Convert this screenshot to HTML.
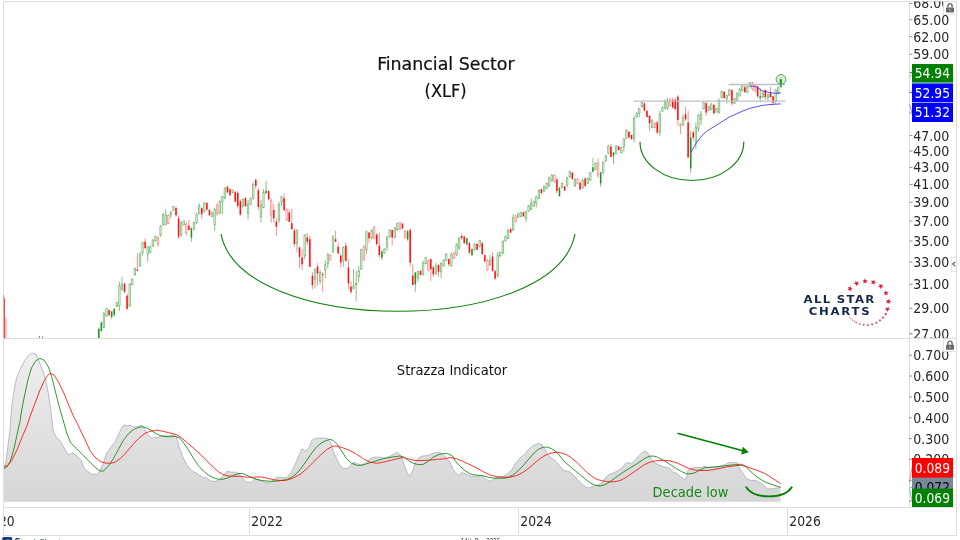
<!DOCTYPE html>
<html lang="en"><head><meta charset="utf-8"><title>Financial Sector (XLF)</title>
<style>html,body{margin:0;padding:0;background:#fff;overflow:hidden}svg{display:block}text{font-family:'DejaVu Sans Condensed','DejaVu Sans','Liberation Sans',sans-serif}</style></head><body>
<svg width="960" height="540" viewBox="0 0 960 540">
<defs><linearGradient id="ig" gradientUnits="userSpaceOnUse" x1="0" y1="350" x2="0" y2="502"><stop offset="0" stop-color="#efefef"/><stop offset="1" stop-color="#d6d6d6"/></linearGradient><clipPath id="pc"><rect x="3.5" y="1.5" width="906" height="336.7"/></clipPath><clipPath id="fc"><rect x="3.5" y="1.5" width="953" height="533.5"/></clipPath></defs>
<rect width="960" height="540" fill="#fff"/>
<polygon points="3.3,501.8 3.3,470.5 5.8,463.0 8.3,443.0 10.0,430.0 11.7,406.7 14.2,390.0 16.7,377.5 20.8,368.3 25.0,360.0 29.2,355.0 32.5,353.0 35.8,354.2 39.2,361.7 42.5,370.0 45.8,380.0 48.3,393.3 50.8,410.0 51.7,418.0 53.3,431.3 56.7,438.0 60.0,440.5 64.2,448.0 68.3,455.0 72.5,453.0 76.7,455.5 80.8,459.7 84.2,468.0 87.5,471.3 91.7,474.3 96.7,474.3 100.0,471.3 103.3,463.0 106.7,453.0 110.8,447.2 115.0,442.2 119.2,433.0 122.5,426.3 125.0,425.0 127.5,425.8 130.0,425.2 133.3,427.2 138.3,426.3 142.5,425.5 145.0,429.7 147.5,434.7 151.7,438.0 155.8,437.7 158.3,437.2 163.3,435.5 168.3,436.0 173.3,434.7 176.7,437.2 179.2,447.2 182.5,456.3 185.8,463.0 189.2,468.0 193.3,471.7 198.3,474.3 202.5,477.2 206.7,478.0 210.8,481.0 215.8,481.3 220.0,479.3 223.3,475.5 226.7,471.3 231.7,472.2 236.7,472.2 240.8,475.5 244.2,480.5 246.7,482.2 251.7,482.2 255.0,478.8 260.0,480.5 265.0,482.2 270.0,483.0 273.3,480.5 276.7,477.2 281.7,477.7 286.7,477.7 290.8,473.0 295.0,464.7 299.2,454.7 302.0,448.8 305.8,451.3 309.2,447.2 311.7,440.5 315.0,438.3 321.7,438.0 327.5,438.5 330.8,443.0 333.3,451.3 336.7,458.8 340.0,465.5 343.3,468.3 346.7,468.8 350.0,466.3 353.3,462.2 357.5,463.8 361.7,464.7 365.8,463.0 370.0,458.8 374.2,457.2 380.0,457.2 385.0,458.0 390.0,456.3 394.2,453.8 397.5,452.2 400.8,455.5 404.2,464.7 407.5,473.8 410.0,475.5 412.5,471.3 415.0,463.0 418.3,458.0 422.5,456.0 428.3,455.5 433.3,453.0 438.3,452.2 442.5,453.8 446.7,458.0 450.0,462.2 453.3,469.7 458.3,475.5 461.7,472.2 466.7,474.7 471.7,476.3 476.7,476.3 481.7,475.5 485.8,479.3 490.0,481.3 493.3,479.7 497.5,476.7 503.3,476.3 507.5,473.8 511.7,469.7 515.8,463.0 520.0,458.0 525.0,453.8 529.2,448.8 533.3,445.5 538.3,443.5 541.7,444.3 545.0,449.7 547.5,454.7 551.7,458.0 555.8,461.3 560.0,466.3 564.2,470.5 569.2,471.7 573.3,474.7 577.5,479.7 581.7,483.8 585.8,487.2 589.2,488.0 593.3,486.7 598.3,484.7 602.5,482.2 605.8,477.2 609.2,474.3 613.3,473.0 618.3,470.5 622.5,467.2 625.8,463.3 629.2,462.7 631.7,463.8 635.0,460.5 639.2,455.5 642.5,452.2 645.8,451.3 648.3,453.3 650.8,458.8 655.0,463.0 660.0,465.5 665.0,467.2 669.2,468.0 673.3,472.2 677.5,473.8 680.8,477.2 684.2,479.3 686.3,478.8 687.5,471.3 690.8,468.0 696.7,467.5 701.7,467.5 705.0,466.3 708.3,467.5 715.0,467.2 720.0,466.3 725.0,464.7 729.2,462.5 733.3,462.7 737.3,462.4 739.4,468.3 742.6,472.7 747.0,479.0 751.4,480.6 755.2,480.3 760.2,482.8 764.0,485.3 767.8,489.1 772.8,488.5 780.6,487.6 780.6,501.8" fill="url(#ig)"/>
<polyline points="3.3,470.5 5.8,463.0 8.3,443.0 10.0,430.0 11.7,406.7 14.2,390.0 16.7,377.5 20.8,368.3 25.0,360.0 29.2,355.0 32.5,353.0 35.8,354.2 39.2,361.7 42.5,370.0 45.8,380.0 48.3,393.3 50.8,410.0 51.7,418.0 53.3,431.3 56.7,438.0 60.0,440.5 64.2,448.0 68.3,455.0 72.5,453.0 76.7,455.5 80.8,459.7 84.2,468.0 87.5,471.3 91.7,474.3 96.7,474.3 100.0,471.3 103.3,463.0 106.7,453.0 110.8,447.2 115.0,442.2 119.2,433.0 122.5,426.3 125.0,425.0 127.5,425.8 130.0,425.2 133.3,427.2 138.3,426.3 142.5,425.5 145.0,429.7 147.5,434.7 151.7,438.0 155.8,437.7 158.3,437.2 163.3,435.5 168.3,436.0 173.3,434.7 176.7,437.2 179.2,447.2 182.5,456.3 185.8,463.0 189.2,468.0 193.3,471.7 198.3,474.3 202.5,477.2 206.7,478.0 210.8,481.0 215.8,481.3 220.0,479.3 223.3,475.5 226.7,471.3 231.7,472.2 236.7,472.2 240.8,475.5 244.2,480.5 246.7,482.2 251.7,482.2 255.0,478.8 260.0,480.5 265.0,482.2 270.0,483.0 273.3,480.5 276.7,477.2 281.7,477.7 286.7,477.7 290.8,473.0 295.0,464.7 299.2,454.7 302.0,448.8 305.8,451.3 309.2,447.2 311.7,440.5 315.0,438.3 321.7,438.0 327.5,438.5 330.8,443.0 333.3,451.3 336.7,458.8 340.0,465.5 343.3,468.3 346.7,468.8 350.0,466.3 353.3,462.2 357.5,463.8 361.7,464.7 365.8,463.0 370.0,458.8 374.2,457.2 380.0,457.2 385.0,458.0 390.0,456.3 394.2,453.8 397.5,452.2 400.8,455.5 404.2,464.7 407.5,473.8 410.0,475.5 412.5,471.3 415.0,463.0 418.3,458.0 422.5,456.0 428.3,455.5 433.3,453.0 438.3,452.2 442.5,453.8 446.7,458.0 450.0,462.2 453.3,469.7 458.3,475.5 461.7,472.2 466.7,474.7 471.7,476.3 476.7,476.3 481.7,475.5 485.8,479.3 490.0,481.3 493.3,479.7 497.5,476.7 503.3,476.3 507.5,473.8 511.7,469.7 515.8,463.0 520.0,458.0 525.0,453.8 529.2,448.8 533.3,445.5 538.3,443.5 541.7,444.3 545.0,449.7 547.5,454.7 551.7,458.0 555.8,461.3 560.0,466.3 564.2,470.5 569.2,471.7 573.3,474.7 577.5,479.7 581.7,483.8 585.8,487.2 589.2,488.0 593.3,486.7 598.3,484.7 602.5,482.2 605.8,477.2 609.2,474.3 613.3,473.0 618.3,470.5 622.5,467.2 625.8,463.3 629.2,462.7 631.7,463.8 635.0,460.5 639.2,455.5 642.5,452.2 645.8,451.3 648.3,453.3 650.8,458.8 655.0,463.0 660.0,465.5 665.0,467.2 669.2,468.0 673.3,472.2 677.5,473.8 680.8,477.2 684.2,479.3 686.3,478.8 687.5,471.3 690.8,468.0 696.7,467.5 701.7,467.5 705.0,466.3 708.3,467.5 715.0,467.2 720.0,466.3 725.0,464.7 729.2,462.5 733.3,462.7 737.3,462.4 739.4,468.3 742.6,472.7 747.0,479.0 751.4,480.6 755.2,480.3 760.2,482.8 764.0,485.3 767.8,489.1 772.8,488.5 780.6,487.6" fill="none" stroke="#a4adbd" stroke-width="0.8" stroke-linejoin="round"/>
<polyline points="3.3,468.5 6.7,467.2 10.0,462.2 13.3,451.3 16.7,436.3 20.0,421.3 21.7,410.0 25.0,393.3 28.3,378.3 31.7,367.5 35.8,360.8 40.0,358.3 44.2,360.3 48.3,366.7 51.7,376.7 55.0,390.0 59.2,406.7 62.5,418.0 66.7,433.0 70.8,443.0 76.7,448.8 83.3,455.5 90.0,462.2 95.8,468.0 100.0,471.0 103.3,471.0 108.3,466.3 113.3,458.8 118.3,449.7 123.3,440.5 128.3,433.8 133.3,429.7 138.3,427.5 142.5,426.7 146.7,428.0 150.0,429.7 155.0,433.0 160.0,435.5 165.0,436.7 170.0,436.7 175.0,436.3 179.2,437.7 183.3,442.2 188.3,449.7 193.3,458.0 198.3,465.5 203.3,471.0 208.3,475.0 213.3,477.7 218.3,479.2 223.3,479.2 228.3,477.7 233.3,475.5 238.3,473.5 242.5,473.5 246.7,475.2 251.7,477.7 256.7,479.3 261.7,480.5 266.7,481.0 271.7,481.3 276.7,481.0 281.7,480.5 286.7,479.7 291.7,477.2 296.7,473.3 300.0,469.7 305.0,463.0 310.0,455.5 315.0,448.8 320.0,443.8 325.0,441.0 330.0,439.3 333.3,440.5 337.5,444.7 341.7,451.3 346.7,458.8 351.7,463.3 356.7,465.2 361.7,465.3 366.7,463.8 373.3,461.7 380.0,459.7 386.7,458.0 393.3,456.8 400.0,456.0 404.2,457.2 408.3,460.5 413.3,463.3 418.3,464.7 423.3,464.3 428.3,461.3 433.3,457.2 438.3,454.7 443.3,453.5 448.3,453.8 452.5,456.0 455.0,460.5 460.0,466.3 465.0,470.5 470.0,473.8 475.0,475.0 481.7,475.5 488.3,477.2 495.0,478.3 501.7,478.3 507.5,477.7 513.3,474.7 518.3,470.5 523.3,465.5 528.3,459.7 533.3,453.8 538.3,449.3 543.3,447.2 547.5,447.2 551.7,448.8 556.7,452.2 560.8,457.2 565.0,462.2 570.0,466.3 575.0,470.5 580.0,474.7 585.0,478.8 590.0,482.7 595.0,485.2 600.0,486.0 605.0,484.7 610.0,481.7 615.0,478.0 620.0,474.3 625.0,471.0 630.0,468.0 635.0,465.0 640.0,461.7 645.0,458.3 649.2,456.3 653.3,456.0 657.5,457.2 661.7,459.3 666.7,462.2 671.7,465.5 676.7,468.8 681.7,471.7 686.7,473.8 690.8,473.8 695.0,472.7 700.0,470.0 705.0,467.7 710.0,467.2 716.7,466.8 723.3,466.0 730.0,465.2 736.3,464.6 741.3,464.2 745.1,465.8 748.9,469.6 753.9,474.6 759.0,478.4 764.0,481.3 769.0,483.5 774.1,485.3 780.6,487.2" fill="none" stroke="#008000" stroke-width="0.8" stroke-linejoin="round"/>
<polyline points="3.3,466.7 7.5,465.5 11.7,460.5 16.7,450.5 21.7,438.0 26.7,426.3 30.0,416.7 35.0,403.3 40.0,390.0 45.0,379.2 48.3,374.7 50.8,373.3 54.2,375.3 58.3,381.7 63.3,391.7 68.3,404.2 73.3,415.8 75.5,420.0 80.0,429.2 85.0,439.7 90.0,450.5 95.0,457.2 100.0,461.3 105.0,463.0 110.0,463.3 115.0,462.2 120.0,458.8 125.0,453.8 130.0,448.0 135.0,442.2 140.0,437.2 145.0,433.3 150.0,431.3 156.7,430.2 163.3,431.3 170.0,433.0 176.7,434.7 181.7,438.0 186.7,442.2 193.3,448.0 200.0,453.8 206.7,460.5 213.3,467.2 218.3,471.7 223.3,474.7 228.3,476.0 233.3,476.3 240.0,476.3 246.7,477.2 253.3,477.2 260.0,476.8 266.7,478.0 273.3,479.7 280.0,480.5 286.7,480.2 293.3,478.0 300.0,474.5 306.7,468.8 313.3,462.2 320.0,455.5 326.7,449.7 332.5,446.3 337.5,446.0 343.3,448.0 350.0,450.5 356.7,454.3 363.3,458.8 370.0,462.2 376.7,463.3 383.3,462.2 390.0,460.5 396.7,458.8 403.3,457.5 408.3,458.8 415.0,460.5 423.3,460.5 431.7,460.0 438.3,459.3 445.0,458.8 450.0,457.5 456.7,458.8 463.3,461.7 470.0,464.7 476.7,468.0 483.3,471.7 490.0,475.0 496.7,476.7 503.3,477.2 510.0,477.2 516.7,475.5 523.3,472.2 530.0,467.2 536.7,461.3 543.3,456.3 550.0,453.3 556.7,452.2 561.7,453.0 566.7,454.7 571.7,458.0 576.7,462.2 581.7,467.2 586.7,472.2 591.7,476.3 596.7,479.3 601.7,480.7 606.7,481.6 610.0,481.8 615.0,481.7 620.0,480.5 625.0,478.0 630.0,474.7 635.0,471.3 640.0,467.7 645.0,464.3 650.0,462.2 655.0,461.0 660.0,460.3 665.0,460.3 670.0,461.0 675.0,462.2 680.0,464.3 685.0,466.8 690.0,468.8 695.0,470.0 700.0,470.5 706.7,470.5 713.3,469.7 720.0,468.3 726.7,466.8 730.0,466.5 735.0,465.8 740.1,465.2 745.1,466.2 750.2,468.0 755.2,469.6 760.2,471.5 765.3,473.8 770.3,476.9 775.3,480.1 780.6,483.5" fill="none" stroke="#ff0000" stroke-width="0.8" stroke-linejoin="round"/>
<g fill="none" stroke="#dedede" stroke-width="1" shape-rendering="crispEdges">
<rect x="3.5" y="1.5" width="953" height="533.5"/>
<line x1="3.5" y1="338.5" x2="956.5" y2="338.5"/>
<line x1="3.5" y1="507.5" x2="956.5" y2="507.5"/>
<line x1="909.5" y1="1.5" x2="909.5" y2="507.5"/>
<line x1="249.5" y1="507.5" x2="249.5" y2="535"/>
<line x1="518.5" y1="507.5" x2="518.5" y2="535"/>
<line x1="787.5" y1="507.5" x2="787.5" y2="535"/>
</g>
<g font-size="14.3" fill="#262626">
<g clip-path="url(#fc)">
<line x1="909.5" y1="3.5" x2="912.5" y2="3.5" stroke="#777" stroke-width="0.8"/>
<text x="913.3" y="8.4" textLength="36" lengthAdjust="spacingAndGlyphs">68.00</text>
<line x1="909.5" y1="19.7" x2="912.5" y2="19.7" stroke="#777" stroke-width="0.8"/>
<text x="913.3" y="24.6" textLength="36" lengthAdjust="spacingAndGlyphs">65.00</text>
<line x1="909.5" y1="36.6" x2="912.5" y2="36.6" stroke="#777" stroke-width="0.8"/>
<text x="913.3" y="41.5" textLength="36" lengthAdjust="spacingAndGlyphs">62.00</text>
<line x1="909.5" y1="54.3" x2="912.5" y2="54.3" stroke="#777" stroke-width="0.8"/>
<text x="913.3" y="59.2" textLength="36" lengthAdjust="spacingAndGlyphs">59.00</text>
<line x1="909.5" y1="135.6" x2="912.5" y2="135.6" stroke="#777" stroke-width="0.8"/>
<text x="913.3" y="140.5" textLength="36" lengthAdjust="spacingAndGlyphs">47.00</text>
<line x1="909.5" y1="151.1" x2="912.5" y2="151.1" stroke="#777" stroke-width="0.8"/>
<text x="913.3" y="156.0" textLength="36" lengthAdjust="spacingAndGlyphs">45.00</text>
<line x1="909.5" y1="167.4" x2="912.5" y2="167.4" stroke="#777" stroke-width="0.8"/>
<text x="913.3" y="172.3" textLength="36" lengthAdjust="spacingAndGlyphs">43.00</text>
<line x1="909.5" y1="184.4" x2="912.5" y2="184.4" stroke="#777" stroke-width="0.8"/>
<text x="913.3" y="189.3" textLength="36" lengthAdjust="spacingAndGlyphs">41.00</text>
<line x1="909.5" y1="202.3" x2="912.5" y2="202.3" stroke="#777" stroke-width="0.8"/>
<text x="913.3" y="207.2" textLength="36" lengthAdjust="spacingAndGlyphs">39.00</text>
<line x1="909.5" y1="221.1" x2="912.5" y2="221.1" stroke="#777" stroke-width="0.8"/>
<text x="913.3" y="226.0" textLength="36" lengthAdjust="spacingAndGlyphs">37.00</text>
<line x1="909.5" y1="241.0" x2="912.5" y2="241.0" stroke="#777" stroke-width="0.8"/>
<text x="913.3" y="245.9" textLength="36" lengthAdjust="spacingAndGlyphs">35.00</text>
<line x1="909.5" y1="262.0" x2="912.5" y2="262.0" stroke="#777" stroke-width="0.8"/>
<text x="913.3" y="266.9" textLength="36" lengthAdjust="spacingAndGlyphs">33.00</text>
<line x1="909.5" y1="284.4" x2="912.5" y2="284.4" stroke="#777" stroke-width="0.8"/>
<text x="913.3" y="289.3" textLength="36" lengthAdjust="spacingAndGlyphs">31.00</text>
<line x1="909.5" y1="308.2" x2="912.5" y2="308.2" stroke="#777" stroke-width="0.8"/>
<text x="913.3" y="313.1" textLength="36" lengthAdjust="spacingAndGlyphs">29.00</text>
</g>
<clipPath id="pc2"><rect x="905" y="300" width="52" height="38"/></clipPath>
<g clip-path="url(#pc2)"><line x1="909.5" y1="333.8" x2="912.5" y2="333.8" stroke="#444" stroke-width="0.8"/><text x="913.3" y="338.7" textLength="36" lengthAdjust="spacingAndGlyphs">27.00</text></g>
<clipPath id="pc3"><rect x="905" y="339" width="52" height="168"/></clipPath><g clip-path="url(#pc3)">
<line x1="909.5" y1="355.2" x2="911.5" y2="355.2" stroke="#444" stroke-width="0.8"/>
<text x="913.3" y="360.1" textLength="36" lengthAdjust="spacingAndGlyphs">0.700</text>
<line x1="909.5" y1="376.0" x2="911.5" y2="376.0" stroke="#444" stroke-width="0.8"/>
<text x="913.3" y="380.9" textLength="36" lengthAdjust="spacingAndGlyphs">0.600</text>
<line x1="909.5" y1="396.9" x2="911.5" y2="396.9" stroke="#444" stroke-width="0.8"/>
<text x="913.3" y="401.8" textLength="36" lengthAdjust="spacingAndGlyphs">0.500</text>
<line x1="909.5" y1="417.8" x2="911.5" y2="417.8" stroke="#444" stroke-width="0.8"/>
<text x="913.3" y="422.6" textLength="36" lengthAdjust="spacingAndGlyphs">0.400</text>
<line x1="909.5" y1="438.6" x2="911.5" y2="438.6" stroke="#444" stroke-width="0.8"/>
<text x="913.3" y="443.5" textLength="36" lengthAdjust="spacingAndGlyphs">0.300</text>
<line x1="909.5" y1="459.4" x2="911.5" y2="459.4" stroke="#444" stroke-width="0.8"/>
<text x="913.3" y="464.3" textLength="36" lengthAdjust="spacingAndGlyphs">0.200</text>
<line x1="909.5" y1="480.3" x2="911.5" y2="480.3" stroke="#444" stroke-width="0.8"/>
<text x="913.3" y="485.2" textLength="36" lengthAdjust="spacingAndGlyphs">0.100</text>
<line x1="909.5" y1="501.1" x2="911.5" y2="501.1" stroke="#444" stroke-width="0.8"/>
<text x="913.3" y="506.0" textLength="36" lengthAdjust="spacingAndGlyphs">0.000</text>
</g>
<clipPath id="tc"><rect x="4" y="508" width="952" height="27"/></clipPath><g clip-path="url(#tc)">
<text x="-16.8" y="526.3" textLength="31.5" lengthAdjust="spacingAndGlyphs">2020</text>
<text x="251.3" y="526.3" textLength="31.5" lengthAdjust="spacingAndGlyphs">2022</text>
<text x="520.3" y="526.3" textLength="31.5" lengthAdjust="spacingAndGlyphs">2024</text>
<text x="789.3" y="526.3" textLength="31.5" lengthAdjust="spacingAndGlyphs">2026</text>
</g>
</g>
<g transform="translate(946,2.8)"><rect x="-2.5" y="-1.3" width="13" height="12.8" fill="#fff" stroke="#dadada" stroke-width="0.8"/><path d="M1.9 4.8V3.1a2.1 2.1 0 0 1 4.2 0V4.8" fill="none" stroke="#6a6a6a" stroke-width="1.4"/><rect x="0" y="4.6" width="8" height="5" rx="0.7" fill="#6a6a6a"/><rect x="3.4" y="6" width="1.2" height="2" fill="#b5b5b5"/></g>
<g transform="translate(946,340.1)"><rect x="-2.5" y="-1.3" width="13" height="12.8" fill="#fff" stroke="#dadada" stroke-width="0.8"/><path d="M1.9 4.8V3.1a2.1 2.1 0 0 1 4.2 0V4.8" fill="none" stroke="#6a6a6a" stroke-width="1.4"/><rect x="0" y="4.6" width="8" height="5" rx="0.7" fill="#6a6a6a"/><rect x="3.4" y="6" width="1.2" height="2" fill="#b5b5b5"/></g>
<rect x="951.5" y="257.2" width="5" height="14.1" fill="#fff" stroke="#dcdcdc" stroke-width="0.8"/><path d="M955.3 261.9l-2.6 2.2 2.6 2.2" fill="none" stroke="#555" stroke-width="1.1"/>
<path d="M909.5 78.5L912 71" stroke="#8fc98f" stroke-width="0.8" fill="none"/>
<path d="M909.5 92.3H912" stroke="#5555ff" stroke-width="0.8" fill="none"/>
<path d="M909.5 104L912 112.5" stroke="#7777ff" stroke-width="0.8" fill="none"/>
<path d="M909.5 72.5H912M909.5 92.6H912M909.5 113H912" stroke="#666" stroke-width="0.8" fill="none"/>
<path d="M909.5 487.4H912" stroke="#8a94a6" stroke-width="0.8" fill="none"/>
<rect x="912" y="64.0" width="41" height="18.6" fill="#008000"/>
<text x="914.8" y="78.0" font-size="14.3" fill="#fff" textLength="35.2" lengthAdjust="spacingAndGlyphs">54.94</text>
<rect x="912" y="83.4" width="41" height="18.9" fill="#0000ff"/>
<text x="914.8" y="97.5" font-size="14.3" fill="#fff" textLength="35.2" lengthAdjust="spacingAndGlyphs">52.95</text>
<rect x="912" y="102.9" width="41" height="19.1" fill="#0000ff"/>
<text x="914.8" y="117.2" font-size="14.3" fill="#fff" textLength="35.2" lengthAdjust="spacingAndGlyphs">51.32</text>
<path d="M909.5 483.3L912 467.3" stroke="#ff6666" stroke-width="0.8" fill="none"/>
<path d="M909.5 488.5L912 500.6" stroke="#66b366" stroke-width="0.8" fill="none"/>
<rect x="912" y="477" width="41" height="13" fill="#778899"/>
<clipPath id="gc"><rect x="912" y="477" width="41" height="12"/></clipPath>
<text x="914.8" y="492" font-size="14.3" fill="#000" clip-path="url(#gc)" textLength="35.2" lengthAdjust="spacingAndGlyphs">0.072</text>
<rect x="912" y="458.0" width="41" height="19.6" fill="#ff0000"/>
<text x="914.8" y="472.5" font-size="14.3" fill="#fff" textLength="35.2" lengthAdjust="spacingAndGlyphs">0.089</text>
<rect x="912" y="488.6" width="41" height="18.4" fill="#008000"/>
<text x="914.8" y="502.5" font-size="14.3" fill="#fff" textLength="35.2" lengthAdjust="spacingAndGlyphs">0.069</text>
<g clip-path="url(#pc)">
<rect x="3.4" y="295" width="0.8" height="4" fill="#f03030"/>
<rect x="3.4" y="298.5" width="1.5" height="40" fill="#f03030"/>
<rect x="4.9" y="318" width="1.9" height="20.5" fill="#ffbcbc"/>
<rect x="39.2" y="336" width="0.8" height="2.5" fill="#3c963c"/>
<rect x="42.2" y="336" width="0.8" height="2.5" fill="#ff5a5a"/>
<path d="M98.80 327.5V338.0M101.37 321.7V331.7M103.95 312.5V328.3M106.52 308.0V316.7M111.67 310.8V319.2M114.24 308.0V316.7M116.82 302.5V306.7M119.39 281.7V310.8M121.96 276.7V290.0M129.68 283.3V306.7M132.26 278.3V285.0M134.83 267.5V275.8M139.98 251.7V266.7M142.55 242.5V255.8M147.70 246.7V261.7M150.27 245.8V253.3M152.85 239.2V246.7M155.42 235.8V241.7M160.57 225.0V236.7M163.14 213.0V225.8M165.71 209.2V225.0M170.86 210.8V218.3M173.43 205.8V210.8M181.16 220.8V236.7M183.73 220.8V225.0M191.45 227.5V241.7M194.02 221.7V230.0M196.60 213.0V224.2M199.17 203.3V214.2M204.32 202.0V212.5M212.04 212.5V216.7M214.61 208.3V230.8M219.76 200.0V214.2M222.33 195.8V214.2M224.91 187.0V199.2M232.63 190.0V192.5M242.92 198.3V207.5M248.07 200.0V219.2M250.64 197.5V205.0M253.22 182.5V200.0M260.94 200.0V222.5M263.51 189.2V208.3M266.08 180.8V193.3M278.95 201.7V223.3M281.53 195.8V205.8M296.97 230.0V252.5M304.69 234.2V259.2M314.98 269.2V288.3M320.13 270.0V284.2M325.28 260.8V278.3M327.85 253.3V268.3M333.00 235.0V253.3M343.29 246.7V266.7M353.59 269.2V289.2M356.16 270.8V300.8M358.73 265.8V282.5M361.31 249.2V270.0M366.45 230.8V254.2M371.60 229.2V239.2M381.90 250.0V260.0M384.47 248.3V253.3M387.04 236.7V250.8M389.62 229.2V237.5M394.76 226.7V238.3M397.34 222.5V230.8M407.63 230.0V240.8M415.35 272.5V291.7M417.93 270.8V281.7M423.07 260.8V275.0M425.65 256.7V264.2M435.94 262.5V275.0M441.09 262.5V278.3M443.66 259.2V266.7M446.24 253.3V260.8M451.38 252.5V266.7M456.53 243.3V255.8M459.10 236.7V250.0M466.82 237.5V245.0M471.97 248.3V255.8M474.55 243.3V250.8M479.69 239.7V247.5M489.99 255.0V265.8M497.71 251.7V277.5M500.28 251.7V256.7M502.86 240.0V254.2M505.43 235.8V241.7M508.00 229.2V239.2M513.15 214.2V230.8M518.30 213.3V217.5M520.87 212.5V216.7M526.02 210.8V221.7M528.59 205.0V211.7M531.16 198.3V210.0M533.74 200.8V206.7M536.31 195.8V207.5M538.89 189.2V199.2M544.03 185.8V191.7M546.61 182.5V189.2M549.18 176.7V186.7M551.75 174.2V181.7M559.47 186.7V196.7M562.05 182.5V188.3M567.20 176.7V186.7M569.77 170.8V177.5M574.92 178.3V186.7M582.64 179.2V189.2M587.78 177.5V184.2M590.36 171.7V180.8M592.93 158.3V171.7M595.50 162.5V170.0M600.65 171.7V186.7M603.23 160.8V174.2M605.80 155.0V161.7M608.37 145.0V154.2M613.52 152.5V164.2M616.09 145.0V154.2M621.24 146.7V153.3M623.81 138.3V151.7M626.39 129.2V139.2M634.11 115.8V142.5M636.68 112.5V117.5M639.26 108.3V117.5M641.83 101.7V107.5M652.12 119.2V128.3M659.84 110.8V135.8M662.42 106.7V111.7M664.99 99.2V109.2M667.57 97.5V110.0M683.01 114.2V125.8M690.73 130.8V173.3M695.88 122.5V149.2M698.45 114.2V131.7M701.02 110.8V125.0M703.60 101.7V109.2M708.74 105.8V110.8M711.32 103.2V110.3M716.46 108.4V112.2M719.04 98.5V113.6M721.61 90.5V98.5M726.76 95.2V103.7M729.33 89.0V95.7M734.48 98.0V104.2M737.05 92.4V101.4M739.63 88.1V96.6M742.20 84.8V91.4M747.35 85.3V93.3M749.92 82.0V87.2M760.22 87.7V102.3M762.79 91.9V98.0M767.94 94.3V101.4M775.66 89.5V103.7M778.23 86.7V94.3M780.80 79.2V88.1" stroke="#0a850a" stroke-width="0.5" fill="none"/>
<path d="M109.09 310.0V316.7M124.54 282.5V293.3M127.11 293.7V310.0M137.40 253.3V270.8M145.12 238.3V248.3M157.99 235.8V246.7M168.29 214.2V224.2M176.01 206.7V216.7M178.58 215.8V238.7M186.30 222.5V235.8M188.88 220.0V230.0M201.74 207.5V219.2M206.89 202.0V210.8M209.46 209.2V215.8M217.19 203.3V215.8M227.48 185.8V193.3M230.05 188.3V195.8M235.20 190.8V202.5M237.77 190.8V208.3M240.35 199.2V215.8M245.50 196.7V206.7M255.79 178.3V189.2M258.36 187.5V210.0M268.66 190.0V200.8M271.23 198.3V222.5M273.80 204.2V222.5M276.38 218.3V235.8M284.10 193.3V211.7M286.67 208.3V220.8M289.25 209.2V221.7M291.82 208.7V229.2M294.39 228.3V246.7M299.54 246.7V268.3M302.11 249.2V270.0M307.26 233.3V245.0M309.84 235.8V266.7M312.41 272.5V289.2M317.56 263.3V285.8M322.70 271.7V291.7M330.42 254.2V260.8M335.57 230.8V241.7M338.14 242.5V254.2M340.72 253.3V267.5M345.87 242.5V261.7M348.44 259.2V289.2M351.01 281.7V294.2M363.88 245.0V260.8M369.03 232.5V243.3M374.18 225.8V239.2M376.75 233.3V245.8M379.32 232.5V257.5M392.19 230.0V245.0M399.91 221.7V230.0M402.48 223.0V229.2M405.06 230.0V238.3M410.21 228.3V266.7M412.78 264.2V285.0M420.50 270.8V275.0M428.22 259.2V271.7M430.79 258.3V280.8M433.37 265.8V276.7M438.52 264.2V276.7M448.81 258.3V266.7M453.96 251.7V259.2M461.68 233.3V240.0M464.25 235.8V244.2M469.40 241.7V254.2M477.12 243.3V250.0M482.27 241.7V255.0M484.84 254.2V262.5M487.41 259.2V270.8M492.56 252.5V271.7M495.13 270.0V280.0M510.58 228.3V233.3M515.72 215.0V222.5M523.44 211.7V216.7M541.46 189.2V193.3M554.33 174.2V182.5M556.90 177.5V193.3M564.62 185.8V190.8M572.34 171.7V180.0M577.49 178.3V184.2M580.06 181.7V190.0M585.21 177.5V186.7M598.08 158.3V177.5M610.95 144.2V157.5M618.67 145.8V150.8M628.96 130.8V138.3M631.54 135.0V139.2M644.40 102.5V111.7M646.98 110.0V117.5M649.55 115.8V130.8M654.70 122.5V128.3M657.27 120.8V134.2M670.14 98.3V106.7M672.71 97.5V108.3M675.29 98.3V110.8M677.86 95.0V125.8M680.43 123.3V134.2M685.58 106.7V120.8M688.15 110.8V157.5M693.30 130.8V140.8M706.17 101.7V115.8M713.89 103.7V114.1M724.18 91.0V98.5M731.91 89.5V105.6M744.77 84.4V92.9M752.49 82.0V90.5M755.07 84.4V91.9M757.64 85.3V98.0M765.36 89.5V99.9M770.51 86.7V97.6M773.08 96.2V105.1" stroke="#ff2020" stroke-width="0.5" fill="none"/>
<path d="M103.22 313.0h1.45v14.5h-1.45zM105.80 308.5h1.45v7.5h-1.45zM116.09 302.5h1.45v4.2h-1.45zM118.66 285.8h1.45v20.0h-1.45zM121.24 284.0h1.45v6.0h-1.45zM128.96 284.0h1.45v22.0h-1.45zM131.53 279.1h1.45v5.4h-1.45zM134.11 268.5h1.45v6.1h-1.45zM139.25 254.0h1.45v12.0h-1.45zM141.83 242.5h1.45v10.0h-1.45zM146.97 246.7h1.45v7.5h-1.45zM149.55 246.7h1.45v5.5h-1.45zM152.12 240.1h1.45v6.0h-1.45zM154.69 236.5h1.45v4.4h-1.45zM159.84 226.4h1.45v8.7h-1.45zM162.41 214.5h1.45v10.2h-1.45zM164.99 215.0h1.45v10.0h-1.45zM170.14 212.5h1.45v2.5h-1.45zM172.71 206.4h1.45v4.0h-1.45zM180.43 222.7h1.45v11.8h-1.45zM183.00 220.8h1.45v4.2h-1.45zM193.30 222.7h1.45v6.6h-1.45zM195.87 214.3h1.45v8.3h-1.45zM198.45 205.8h1.45v7.5h-1.45zM203.59 203.3h1.45v8.4h-1.45zM211.31 212.5h1.45v4.2h-1.45zM213.89 209.2h1.45v15.8h-1.45zM219.03 201.7h1.45v11.4h-1.45zM221.61 196.7h1.45v5.0h-1.45zM224.18 188.5h1.45v9.8h-1.45zM231.90 190.0h1.45v2.5h-1.45zM242.20 199.4h1.45v6.8h-1.45zM247.34 204.2h1.45v9.1h-1.45zM249.92 198.4h1.45v6.0h-1.45zM252.49 184.6h1.45v13.0h-1.45zM260.21 205.0h1.45v11.7h-1.45zM262.79 192.5h1.45v15.0h-1.45zM278.23 204.3h1.45v16.0h-1.45zM280.80 196.7h1.45v5.0h-1.45zM296.24 230.0h1.45v13.3h-1.45zM303.96 235.0h1.45v20.8h-1.45zM314.26 269.2h1.45v10.0h-1.45zM319.40 272.5h1.45v8.3h-1.45zM324.55 265.0h1.45v5.0h-1.45zM327.13 254.2h1.45v9.1h-1.45zM332.27 237.2h1.45v14.6h-1.45zM342.57 247.5h1.45v13.3h-1.45zM352.86 285.8h1.45v2.5h-1.45zM358.01 270.8h1.45v5.9h-1.45zM360.58 249.2h1.45v20.0h-1.45zM365.73 231.7h1.45v18.3h-1.45zM370.88 230.4h1.45v7.4h-1.45zM383.74 248.9h1.45v4.0h-1.45zM386.32 236.7h1.45v10.0h-1.45zM388.89 230.2h1.45v6.6h-1.45zM394.04 228.1h1.45v9.3h-1.45zM396.61 223.5h1.45v6.1h-1.45zM417.20 271.7h1.45v6.6h-1.45zM422.35 263.3h1.45v11.7h-1.45zM424.92 257.6h1.45v6.0h-1.45zM435.22 265.8h1.45v7.5h-1.45zM440.36 263.3h1.45v8.4h-1.45zM442.94 260.1h1.45v5.6h-1.45zM445.51 254.2h1.45v6.0h-1.45zM450.66 254.2h1.45v11.4h-1.45zM455.81 244.8h1.45v10.0h-1.45zM458.38 238.3h1.45v9.8h-1.45zM473.82 244.2h1.45v5.5h-1.45zM478.97 240.6h1.45v5.8h-1.45zM489.26 260.0h1.45v5.0h-1.45zM496.98 254.8h1.45v20.6h-1.45zM499.56 252.3h1.45v3.7h-1.45zM502.13 241.7h1.45v11.4h-1.45zM504.70 236.5h1.45v4.4h-1.45zM507.28 230.4h1.45v8.0h-1.45zM512.42 217.5h1.45v12.5h-1.45zM517.57 213.3h1.45v4.2h-1.45zM520.15 212.5h1.45v4.2h-1.45zM525.29 211.7h1.45v6.6h-1.45zM527.87 205.8h1.45v5.4h-1.45zM530.44 203.3h1.45v5.9h-1.45zM533.01 201.5h1.45v4.7h-1.45zM535.59 196.7h1.45v6.6h-1.45zM538.16 190.4h1.45v8.0h-1.45zM543.31 186.5h1.45v4.7h-1.45zM545.88 183.3h1.45v5.0h-1.45zM548.45 177.9h1.45v8.0h-1.45zM551.03 175.1h1.45v5.5h-1.45zM561.32 183.2h1.45v4.3h-1.45zM566.47 177.9h1.45v7.4h-1.45zM569.04 171.6h1.45v5.4h-1.45zM574.19 179.3h1.45v6.7h-1.45zM581.91 180.4h1.45v7.4h-1.45zM587.06 178.3h1.45v5.0h-1.45zM589.63 172.8h1.45v7.3h-1.45zM594.78 163.4h1.45v6.0h-1.45zM602.50 162.4h1.45v9.9h-1.45zM605.07 155.8h1.45v5.4h-1.45zM607.65 146.1h1.45v6.8h-1.45zM615.37 146.1h1.45v7.4h-1.45zM620.52 147.5h1.45v5.3h-1.45zM623.09 139.2h1.45v7.5h-1.45zM625.66 130.4h1.45v8.0h-1.45zM633.38 118.3h1.45v20.0h-1.45zM635.96 113.1h1.45v4.0h-1.45zM638.53 108.3h1.45v5.0h-1.45zM641.10 102.4h1.45v4.6h-1.45zM651.40 120.3h1.45v7.3h-1.45zM659.12 113.8h1.45v18.5h-1.45zM661.69 107.3h1.45v4.0h-1.45zM664.27 102.5h1.45v5.8h-1.45zM666.84 100.8h1.45v6.7h-1.45zM682.28 117.5h1.45v7.5h-1.45zM695.15 127.5h1.45v14.2h-1.45zM697.72 115.0h1.45v14.2h-1.45zM700.30 114.2h1.45v5.0h-1.45zM702.87 102.6h1.45v6.0h-1.45zM708.02 106.4h1.45v4.0h-1.45zM710.59 104.1h1.45v5.3h-1.45zM715.74 108.4h1.45v3.8h-1.45zM718.31 100.3h1.45v12.1h-1.45zM720.89 91.5h1.45v5.9h-1.45zM726.03 95.7h1.45v2.8h-1.45zM728.61 89.8h1.45v5.4h-1.45zM733.75 98.7h1.45v5.0h-1.45zM736.33 93.5h1.45v6.7h-1.45zM738.90 89.1h1.45v6.8h-1.45zM741.47 85.6h1.45v4.9h-1.45zM746.62 86.3h1.45v5.9h-1.45zM749.20 82.6h1.45v4.2h-1.45zM762.06 92.6h1.45v4.5h-1.45zM767.21 94.3h1.45v3.7h-1.45zM774.93 90.0h1.45v11.4h-1.45zM777.51 87.6h1.45v5.6h-1.45z" fill="#ffffff" stroke="#057f05" stroke-width="0.42"/>
<path d="M98.08 329.0h1.45v9.0h-1.45zM100.65 322.5h1.45v8.5h-1.45zM110.94 311.5h1.45v5.5h-1.45zM113.52 309.0h1.45v6.0h-1.45zM190.72 228.3h1.45v9.2h-1.45zM265.36 190.8h1.45v2.5h-1.45zM355.44 283.3h1.45v1.1h-1.45zM381.17 251.7h1.45v5.8h-1.45zM406.91 231.3h1.45v8.0h-1.45zM414.63 272.5h1.45v11.7h-1.45zM466.10 238.4h1.45v6.0h-1.45zM471.25 249.2h1.45v6.0h-1.45zM558.75 187.9h1.45v8.0h-1.45zM592.21 167.5h1.45v4.2h-1.45zM599.93 172.5h1.45v10.8h-1.45zM612.79 152.5h1.45v3.3h-1.45zM690.00 137.5h1.45v30.8h-1.45zM759.49 96.2h1.45v1.8h-1.45zM779.80 79.2h2.00v7.5h-2.00z" fill="#2a932a" stroke="#0a850a" stroke-width="0.1"/>
<path d="M108.37 310.0h1.45v5.0h-1.45zM123.81 283.8h1.45v8.0h-1.45zM126.38 295.7h1.45v13.0h-1.45zM136.68 269.5h1.45v1.3h-1.45zM144.40 241.7h1.45v6.6h-1.45zM175.28 207.9h1.45v7.4h-1.45zM177.86 218.5h1.45v18.3h-1.45zM188.15 225.8h1.45v4.2h-1.45zM201.02 208.3h1.45v5.9h-1.45zM206.17 203.1h1.45v6.5h-1.45zM208.74 210.0h1.45v5.3h-1.45zM226.76 186.7h1.45v5.5h-1.45zM229.33 189.2h1.45v6.0h-1.45zM234.48 192.2h1.45v9.4h-1.45zM237.05 192.9h1.45v13.0h-1.45zM239.62 201.2h1.45v13.3h-1.45zM244.77 197.9h1.45v8.0h-1.45zM255.06 180.0h1.45v5.8h-1.45zM257.64 190.2h1.45v16.7h-1.45zM267.93 191.3h1.45v8.0h-1.45zM273.08 210.0h1.45v8.3h-1.45zM275.65 221.7h1.45v5.0h-1.45zM283.37 198.3h1.45v11.7h-1.45zM288.52 212.5h1.45v9.2h-1.45zM291.09 223.3h1.45v5.9h-1.45zM293.67 230.5h1.45v13.6h-1.45zM298.82 247.5h1.45v9.2h-1.45zM301.39 257.5h1.45v6.7h-1.45zM306.54 237.5h1.45v4.2h-1.45zM309.11 239.2h1.45v27.5h-1.45zM311.68 275.8h1.45v9.2h-1.45zM316.83 266.7h1.45v6.6h-1.45zM321.98 274.2h1.45v1.0h-1.45zM334.85 239.2h1.45v2.5h-1.45zM337.42 246.7h1.45v6.6h-1.45zM339.99 255.8h1.45v6.7h-1.45zM345.14 245.8h1.45v15.0h-1.45zM347.71 267.5h1.45v15.8h-1.45zM350.29 286.7h1.45v5.0h-1.45zM368.30 232.5h1.45v5.8h-1.45zM376.02 234.8h1.45v9.2h-1.45zM378.60 245.8h1.45v9.2h-1.45zM391.47 230.0h1.45v7.5h-1.45zM401.76 223.7h1.45v4.6h-1.45zM409.48 230.0h1.45v32.5h-1.45zM412.05 275.8h1.45v9.2h-1.45zM419.77 270.8h1.45v4.2h-1.45zM430.07 259.2h1.45v10.0h-1.45zM432.64 267.5h1.45v6.7h-1.45zM437.79 265.0h1.45v6.7h-1.45zM448.08 259.2h1.45v5.0h-1.45zM460.95 236.0h1.45v2.0h-1.45zM463.53 236.8h1.45v6.2h-1.45zM468.67 243.2h1.45v9.2h-1.45zM476.39 244.1h1.45v5.4h-1.45zM481.54 243.3h1.45v10.6h-1.45zM484.11 255.2h1.45v6.1h-1.45zM491.84 256.7h1.45v14.1h-1.45zM494.41 271.2h1.45v7.4h-1.45zM509.85 228.9h1.45v3.7h-1.45zM522.72 212.3h1.45v4.0h-1.45zM540.73 189.2h1.45v4.1h-1.45zM556.18 179.4h1.45v11.7h-1.45zM563.90 186.4h1.45v4.0h-1.45zM571.62 172.7h1.45v6.1h-1.45zM579.34 182.7h1.45v6.6h-1.45zM584.49 178.6h1.45v7.4h-1.45zM610.22 146.7h1.45v10.0h-1.45zM617.94 146.4h1.45v3.7h-1.45zM628.24 131.7h1.45v5.5h-1.45zM630.81 135.0h1.45v4.2h-1.45zM643.68 103.6h1.45v6.8h-1.45zM646.25 110.9h1.45v6.0h-1.45zM648.83 115.8h1.45v7.5h-1.45zM656.55 122.5h1.45v10.0h-1.45zM671.99 100.0h1.45v7.5h-1.45zM674.56 99.8h1.45v9.2h-1.45zM677.13 96.7h1.45v23.3h-1.45zM684.86 114.2h1.45v5.0h-1.45zM687.43 122.5h1.45v35.0h-1.45zM692.58 132.5h1.45v5.0h-1.45zM705.44 103.3h1.45v9.2h-1.45zM713.17 104.9h1.45v8.3h-1.45zM723.46 91.9h1.45v6.0h-1.45zM731.18 90.0h1.45v13.2h-1.45zM744.05 87.2h1.45v4.7h-1.45zM756.92 86.8h1.45v9.4h-1.45zM764.64 90.0h1.45v7.1h-1.45zM769.78 92.4h1.45v4.7h-1.45zM772.36 96.2h1.45v6.6h-1.45z" fill="#ff1010" stroke="#ff1010" stroke-width="0.1"/>
<path d="M157.27 238.0h1.45v6.0h-1.45zM167.56 215.4h1.45v8.0h-1.45zM185.58 224.0h1.45v9.0h-1.45zM216.46 204.8h1.45v9.2h-1.45zM270.51 200.8h1.45v14.2h-1.45zM285.95 209.8h1.45v10.0h-1.45zM329.70 255.0h1.45v4.9h-1.45zM363.16 246.9h1.45v12.6h-1.45zM373.45 227.4h1.45v10.7h-1.45zM399.19 222.7h1.45v6.6h-1.45zM404.33 231.0h1.45v6.6h-1.45zM427.50 260.7h1.45v9.2h-1.45zM453.23 252.6h1.45v5.5h-1.45zM486.69 260.6h1.45v9.3h-1.45zM515.00 215.9h1.45v5.5h-1.45zM553.60 175.2h1.45v6.6h-1.45zM576.76 179.0h1.45v4.4h-1.45zM597.35 163.3h1.45v11.7h-1.45zM653.97 123.2h1.45v4.3h-1.45zM669.41 99.3h1.45v6.2h-1.45zM679.71 124.2h1.45v1.6h-1.45zM751.77 83.0h1.45v6.3h-1.45zM754.34 85.3h1.45v6.0h-1.45z" fill="#ffffff" stroke="#ff3030" stroke-width="0.42"/>
</g>
<line x1="633.8" y1="101.2" x2="785.5" y2="101.2" stroke="#bcc0c8" stroke-width="1.3"/>
<line x1="728.4" y1="84.5" x2="785.5" y2="84.5" stroke="#bcc0c8" stroke-width="1.3"/>
<polyline points="691.3,151.7 693.5,147.5 696.7,142.5 700.0,138.0 703.3,134.2 706.5,131.5 710.0,129.2 716.7,125.0 723.3,120.8 730.0,116.7 736.7,113.7 743.3,110.8 750.0,108.3 756.7,106.7 763.3,105.3 770.0,104.5 775.0,104.2 780.8,103.9" fill="none" stroke="#2424ff" stroke-width="0.8" stroke-linejoin="round"/>
<polyline points="750.1,86.2 753.5,86.3 757.2,87.2 759.0,88.6 761.0,90.3 763.5,91.2 766.7,91.9 772.3,93.0 776.1,93.3 780.8,92.9" fill="none" stroke="#2424ff" stroke-width="0.8" stroke-linejoin="round"/>
<circle cx="781" cy="79.4" r="4.9" fill="#008000" fill-opacity="0.16" stroke="#2e9a2e" stroke-width="0.8"/>
<path d="M221 234C241 337 555 337 575 234" fill="none" stroke="#0b820b" stroke-width="1.15"/>
<path d="M640 141.7A51.9 38.8 0 0 0 743.8 141.7" fill="none" stroke="#0b820b" stroke-width="1.15"/>
<line x1="677.5" y1="433.3" x2="743" y2="450.7" stroke="#008000" stroke-width="1.5"/>
<polygon points="748.9,452.2 741.2,454.6 742.8,446.8" fill="#008000"/>
<path d="M746.2 487.2C750 493 758 496.4 769 496.4C780 496.4 788 493 791.7 487.2" fill="none" stroke="#008000" stroke-width="1.9" stroke-linecap="round"/>
<text x="445.9" y="70.1" font-size="18.4" fill="#111" stroke="#111" stroke-width="0.2" text-anchor="middle" textLength="137.5" lengthAdjust="spacingAndGlyphs">Financial Sector</text>
<text x="445.6" y="96.8" font-size="18.4" fill="#111" stroke="#111" stroke-width="0.2" text-anchor="middle" textLength="42" lengthAdjust="spacingAndGlyphs">(XLF)</text>
<text x="452" y="375.3" font-size="14.2" fill="#111" text-anchor="middle" textLength="110.3" lengthAdjust="spacingAndGlyphs">Strazza Indicator</text>
<text x="652.6" y="496.8" font-size="13.7" fill="#148a14" textLength="75.8" lengthAdjust="spacingAndGlyphs">Decade low</text>
<g font-family="'Liberation Sans','DejaVu Sans',sans-serif" font-weight="bold" font-size="11.2" fill="#14284b">
<text transform="translate(803.6,302.8) scale(1.16,1)" textLength="60.9" lengthAdjust="spacing">ALL STAR</text>
<text transform="translate(808.8,314.6) scale(1.16,1)" textLength="52.4" lengthAdjust="spacing">CHARTS</text>
</g>
<g fill="#dc1e3c">
<polygon points="847.79,286.87 849.71,287.57 851.10,286.07 851.04,288.11 852.89,288.97 850.93,289.54 850.69,291.57 849.54,289.88 847.53,290.27 848.79,288.66"/>
<polygon points="855.26,280.76 856.81,282.15 858.69,281.27 857.85,283.17 859.27,284.69 857.20,284.47 856.19,286.29 855.76,284.26 853.72,283.86 855.52,282.82"/>
<polygon points="864.74,278.26 865.65,280.17 867.76,280.08 866.23,281.53 866.97,283.52 865.11,282.51 863.45,283.82 863.84,281.74 862.08,280.57 864.17,280.30"/>
<polygon points="874.26,279.38 874.38,281.50 876.37,282.21 874.40,282.98 874.34,285.09 873.00,283.45 870.97,284.04 872.12,282.27 870.93,280.52 872.97,281.06"/>
<polygon points="882.79,283.94 882.10,285.94 883.66,287.36 881.55,287.31 880.68,289.24 880.07,287.22 877.97,286.99 879.70,285.78 879.27,283.72 880.96,284.99"/>
<polygon points="888.66,291.74 887.25,293.31 888.14,295.22 886.21,294.37 884.66,295.81 884.88,293.71 883.03,292.69 885.10,292.24 885.50,290.17 886.56,292.00"/>
<polygon points="891.49,301.28 889.57,302.16 889.64,304.28 888.20,302.72 886.21,303.44 887.24,301.59 885.95,299.92 888.02,300.33 889.21,298.59 889.46,300.69"/>
<polygon points="890.19,309.91 888.22,310.06 887.58,311.92 886.84,310.10 884.86,310.07 886.37,308.79 885.79,306.91 887.47,307.95 889.08,306.81 888.61,308.73"/>
<polygon points="887.09,314.86 885.91,314.65 885.27,315.66 885.09,314.48 883.93,314.17 885.01,313.64 884.94,312.44 885.78,313.30 886.89,312.87 886.34,313.93"/>
<polygon points="884.28,318.53 883.26,318.14 882.50,318.92 882.56,317.83 881.58,317.35 882.64,317.07 882.79,315.99 883.39,316.90 884.46,316.72 883.77,317.56"/>
<polygon points="880.91,321.57 880.01,321.00 879.14,321.61 879.40,320.58 878.56,319.94 879.62,319.87 879.97,318.88 880.36,319.86 881.42,319.88 880.60,320.56"/>
<polygon points="876.87,324.06 876.14,323.35 875.20,323.75 875.65,322.83 874.98,322.06 875.99,322.20 876.52,321.32 876.69,322.33 877.69,322.56 876.78,323.04"/>
<polygon points="872.46,325.73 871.90,324.92 870.94,325.11 871.54,324.33 871.06,323.47 871.98,323.80 872.65,323.08 872.62,324.07 873.52,324.48 872.57,324.75"/>
<polygon points="867.94,326.40 867.55,325.49 866.56,325.49 867.31,324.84 867.00,323.91 867.85,324.41 868.65,323.83 868.43,324.79 869.22,325.37 868.24,325.46"/>
<polygon points="863.56,326.04 863.37,325.14 862.47,324.97 863.26,324.51 863.15,323.60 863.83,324.21 864.66,323.82 864.29,324.66 864.92,325.33 864.00,325.23"/>
<polygon points="859.36,325.14 859.34,324.29 858.55,323.98 859.35,323.70 859.40,322.85 859.91,323.52 860.73,323.31 860.25,324.01 860.71,324.72 859.90,324.48"/>
<circle cx="856.2" cy="322.5" r="0.70"/>
<circle cx="854.4" cy="321.2" r="0.60"/>
<circle cx="852.5" cy="320.0" r="0.55"/>
<circle cx="850.9" cy="318.8" r="0.50"/>
<circle cx="849.6" cy="317.2" r="0.45"/>
</g>
<rect x="2.2" y="537.1" width="10" height="6" rx="1.6" fill="#143c78"/><rect x="6.8" y="539.2" width="3" height="3" fill="#5a78a8"/>
<text x="14.4" y="545.3" font-size="9.4" font-weight="bold" fill="#1b3460" font-family="'Liberation Sans',sans-serif">S<tspan font-weight="normal" fill="#5a6a85" dy="0.7">tockCharts.com</tspan></text>
<text x="461" y="545.4" font-size="8.6" fill="#444" textLength="39" lengthAdjust="spacingAndGlyphs" font-family="'Liberation Sans',sans-serif">14th Dec 2025</text>
</svg></body></html>
